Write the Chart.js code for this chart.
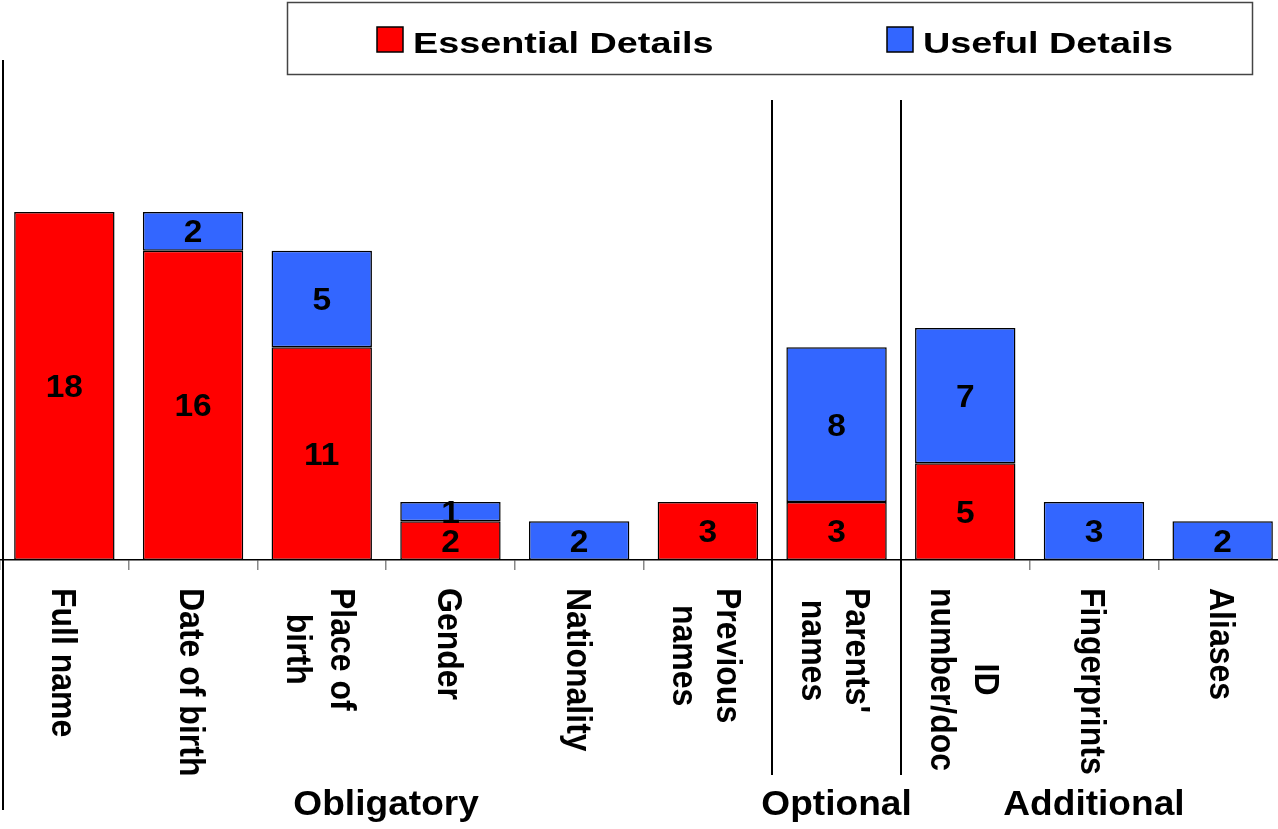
<!DOCTYPE html>
<html>
<head>
<meta charset="utf-8">
<script src="https://cdn.jsdelivr.net/npm/chart.js@4.4.1/dist/chart.umd.min.js"></script>
<style>
  html, body { margin: 0; padding: 0; background: #fff; overflow: hidden; }
  #wrap { width: 1287px; height: 829px; position: relative; }
</style>
</head>
<body>
<div id="wrap"><canvas id="detailsChart"></canvas></div>
<script>
// categories (multi-line labels)
const categories = [
  ['Full name'], ['Date of birth'], ['Place of', 'birth'], ['Gender'], ['Nationality'],
  ['Previous', 'names'], ["Parents'", 'names'], ['ID', 'number/doc'], ['Fingerprints'], ['Aliases']
];
const essential = [18, 16, 11, 2, 0, 3, 3, 5, 0, 0];
const useful = [0, 2, 5, 1, 2, 0, 8, 7, 3, 2];
const seriesNames = ['Essential Details', 'Useful Details'];
const groupNames = ['Obligatory', 'Optional', 'Additional'];
const groupFirst = [0, 6, 7];
const groupLast = [5, 6, 9];

const FONT = '"Liberation Sans", Arial, sans-serif';

// draw text with a small horizontal stretch like the original picture
function stretchText(ctx, text, x, y, size, sx, align) {
  ctx.save();
  ctx.translate(x, y);
  ctx.scale(sx, 1);
  ctx.font = 'bold ' + size + 'px ' + FONT;
  ctx.fillStyle = '#000';
  ctx.textAlign = align || 'center';
  ctx.textBaseline = 'alphabetic';
  ctx.fillText(text, 0, 0);
  ctx.restore();
}

const extras = {
  id: 'extras',
  afterDraw(chart) {
    const ctx = chart.ctx;
    const xs = chart.scales.x;
    const edge = (i) => (xs.getPixelForValue(i) + xs.getPixelForValue(i + 1)) / 2;

    // left line
    ctx.save();
    ctx.strokeStyle = '#000';
    ctx.lineWidth = 2;
    ctx.beginPath();
    ctx.moveTo(3, 60);
    ctx.lineTo(3, 810);
    ctx.stroke();

    // group separators
    [5, 6].forEach(i => {
      const x = Math.round(edge(i));
      ctx.beginPath();
      ctx.moveTo(x, 100);
      ctx.lineTo(x, 775);
      ctx.stroke();
    });
    ctx.restore();

    // data labels
    chart.data.datasets.forEach((ds, di) => {
      chart.getDatasetMeta(di).data.forEach((bar, i) => {
        const v = ds.data[i];
        if (!v) return;
        const cy = (bar.y + bar.base) / 2;
        stretchText(ctx, String(v), bar.x, cy + 11, 31, 1.08, 'center');
      });
    });

    // rotated category labels (reading top to bottom)
    const size = 32, cap = size * 0.716, lh = 40;
    chart.data.labels.forEach((lines, i) => {
      const cx = xs.getPixelForValue(i);
      ctx.save();
      ctx.translate(cx, 588);
      ctx.scale(1.1, 1);
      ctx.rotate(Math.PI / 2);
      ctx.font = 'bold ' + size + 'px ' + FONT;
      ctx.fillStyle = '#000';
      ctx.textBaseline = 'alphabetic';
      const widths = lines.map(t => ctx.measureText(t).width);
      const blockW = Math.max(...widths);
      lines.forEach((t, k) => {
        const v = cap / 2 + (k - (lines.length - 1) / 2) * lh;
        ctx.textAlign = 'left';
        ctx.fillText(t, (blockW - widths[k]) / 2, v);
      });
      ctx.restore();
    });

    // group labels
    groupNames.forEach((g, k) => {
      const a = xs.getPixelForValue(groupFirst[k]);
      const b = xs.getPixelForValue(groupLast[k]);
      stretchText(ctx, g, (a + b) / 2, 815, 35, 1.06, 'center');
    });

    // legend box
    ctx.save();
    ctx.strokeStyle = '#444';
    ctx.lineWidth = 1.5;
    ctx.strokeRect(287.5, 2.5, 965, 72);
    const legX = [377, 887];
    chart.data.datasets.forEach((ds, di) => {
      ctx.fillStyle = ds.backgroundColor;
      ctx.fillRect(legX[di], 27, 26, 25);
      ctx.strokeStyle = '#000';
      ctx.lineWidth = 1.5;
      ctx.strokeRect(legX[di], 27, 26, 25);
      stretchText(ctx, ds.label, legX[di] + 36, 53, 30, 1.26, 'left');
    });
    ctx.restore();
  }
};

new Chart(document.getElementById('detailsChart'), {
  type: 'bar',
  data: {
    labels: categories,
    datasets: [
      {
        label: seriesNames[0],
        data: essential,
        backgroundColor: '#FF0000',
        borderColor: '#000',
        borderWidth: 1.5,
        borderSkipped: false
      },
      {
        label: seriesNames[1],
        data: useful,
        backgroundColor: '#3366FF',
        borderColor: '#000',
        borderWidth: 1.5,
        borderSkipped: false
      }
    ]
  },
  options: {
    responsive: true,
    maintainAspectRatio: false,
    animation: false,
    layout: { padding: { top: 96, left: 0, right: 0, bottom: 0 } },
    datasets: {
      bar: { categoryPercentage: 1, barPercentage: 0.78 }
    },
    scales: {
      x: {
        stacked: true,
        offset: true,
        grid: { offset: true, drawOnChartArea: false, tickLength: 10, color: '#888', lineWidth: 1.5 },
        border: { color: '#000', width: 1.5 },
        ticks: { display: false },
        afterFit(scale) { scale.height = 269; }
      },
      y: {
        stacked: true,
        display: false,
        min: 0,
        max: 24
      }
    },
    plugins: {
      legend: { display: false },
      tooltip: { enabled: false }
    }
  },
  plugins: [extras]
});
</script>
</body>
</html>
